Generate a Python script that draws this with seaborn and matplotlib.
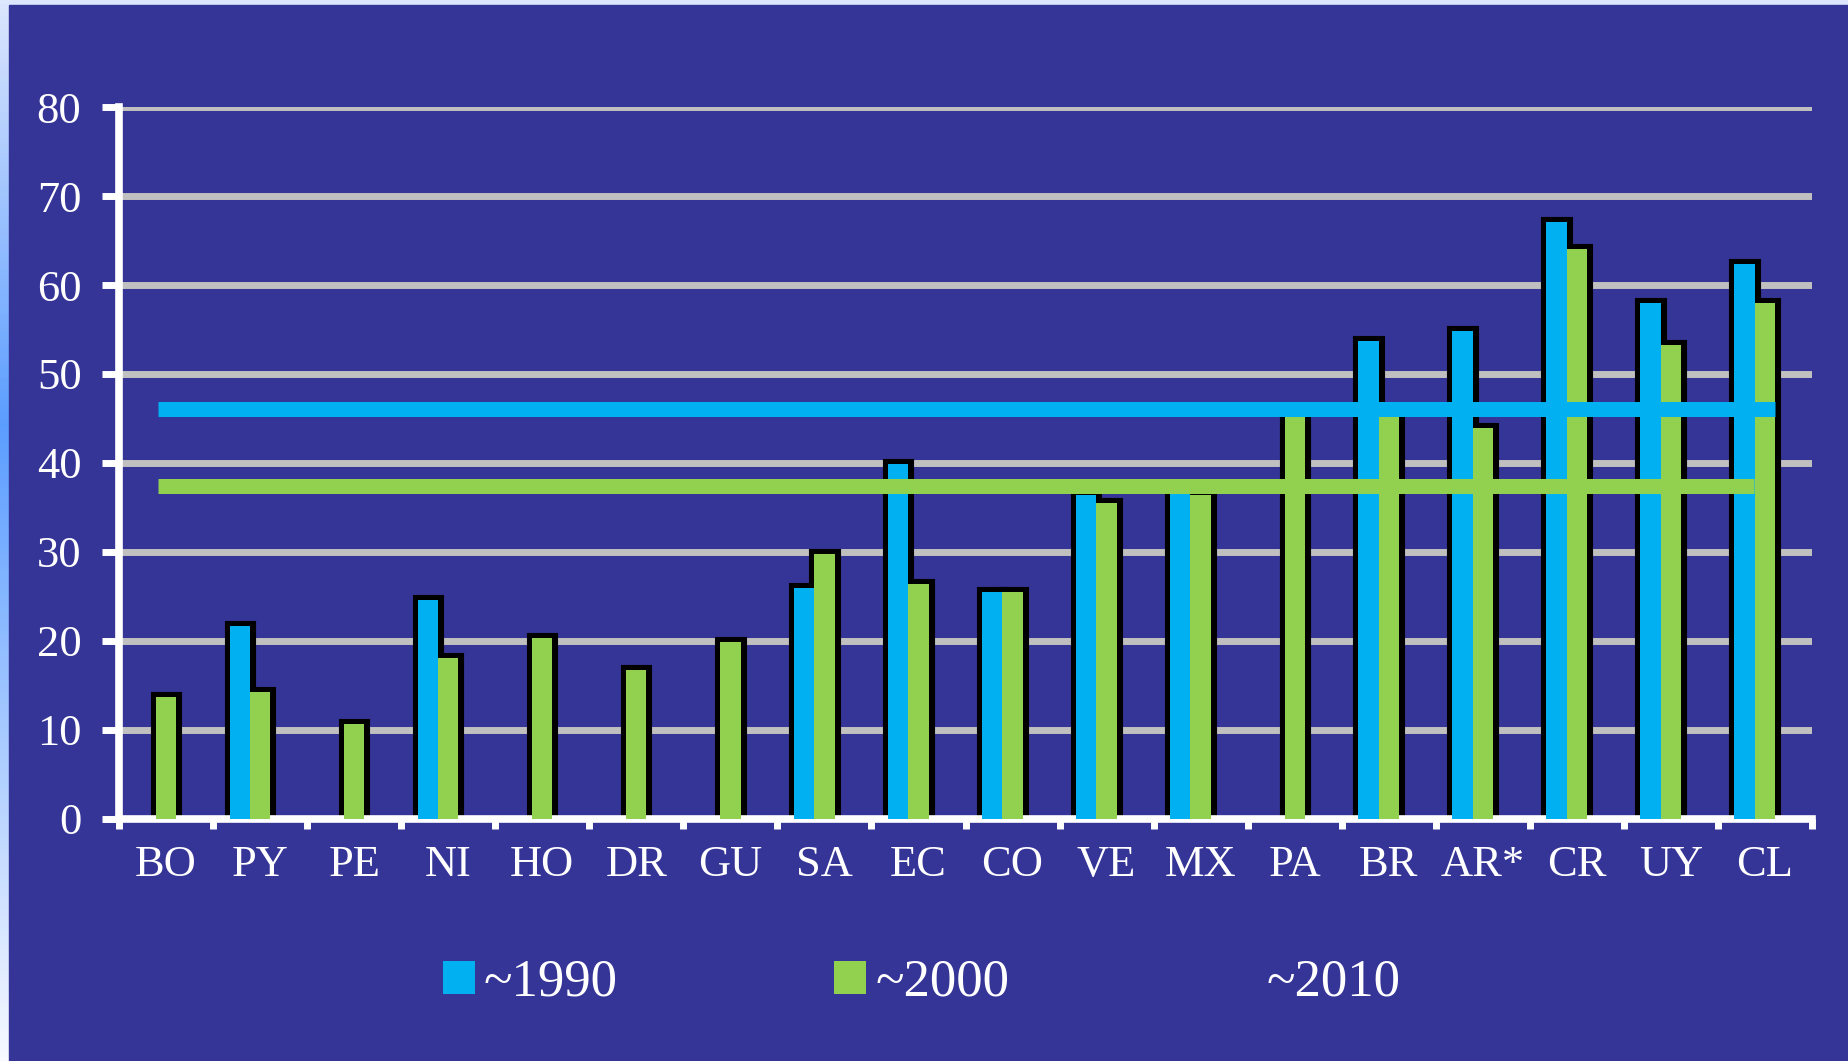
import numpy as np
import pandas as pd
import matplotlib
matplotlib.use("Agg")
import matplotlib.pyplot as plt
import seaborn as sns
from matplotlib.patches import Patch, Rectangle
from matplotlib.colors import LinearSegmentedColormap

# ---------------- data ----------------
categories = ["BO", "PY", "PE", "NI", "HO", "DR", "GU", "SA", "EC", "CO",
              "VE", "MX", "PA", "BR", "AR*", "CR", "UY", "CL"]
v1990 = [None, 21.6, None, 24.6, None, None, None, 25.9, 39.9, 25.5,
         36.4, 36.5, None, 53.7, 54.8, 67.1, 58.0, 62.4]
v2000 = [13.7, 14.2, 10.6, 18.1, 20.3, 16.7, 19.8, 29.8, 26.4, 25.5,
         35.5, 36.4, 45.5, 45.5, 43.9, 64.1, 53.3, 58.0]
v2010 = [None, None, None, None, None, None, None, None, None, None,
         None, None, None, None, None, None, None, None]
periods = ["~1990", "~2000", "~2010"]
avg1990 = 46.1
avg2000 = 37.4
yticks = [0, 10, 20, 30, 40, 50, 60, 70, 80]

# ---------------- styles ----------------
BG = "#353497"
CYAN = "#00B0F0"
GREEN = "#92D050"
GRID = "#C0C0C0"
W, H = 1849, 1061

rows = []
for p, vals in zip(periods, [v1990, v2000, v2010]):
    for c, v in zip(categories, vals):
        if v is not None:
            rows.append({"country": c, "period": p, "value": v})
df = pd.DataFrame(rows)

plt.rcParams["font.family"] = ["Liberation Serif", "DejaVu Serif"]

fig = plt.figure(figsize=(W / 100, H / 100), dpi=100)

# background with light-blue gradient edge
bg = fig.add_axes([0, 0, 1, 1], zorder=-10)
bg.axis("off")
grad = np.linspace(0, 1, 256).reshape(-1, 1)
cmap = LinearSegmentedColormap.from_list(
    "edge", [(0, "#DCE6FD"), (0.4, "#5B9DFF"), (1, "#F7F9FF")])
bg.imshow(grad, aspect="auto", cmap=cmap, extent=[0, 1, 0, 1], origin="upper")
bg.add_patch(Rectangle((9 / W, 0), 1, 1 - 5 / H, color=BG))
bg.set_xlim(0, 1)
bg.set_ylim(0, 1)

ax = fig.add_axes([119 / W, 1 - 818.5 / H, 1693 / W, 711.2 / H])
ax.set_facecolor("none")

# black "shadow" layer
sns.barplot(data=df, x="country", y="value", hue="period", order=categories,
            hue_order=periods, palette={p: "black" for p in periods},
            width=0.65, gap=0, dodge=True, errorbar=None, saturation=1,
            edgecolor="black", linewidth=8, legend=False, ax=ax, zorder=2)
# coloured bars
sns.barplot(data=df, x="country", y="value", hue="period", order=categories,
            hue_order=periods,
            palette={"~1990": CYAN, "~2000": GREEN, "~2010": BG},
            width=0.65, gap=0, dodge=True, errorbar=None, saturation=1,
            linewidth=0, legend=False, ax=ax, zorder=3)

# average lines
ax.axhline(avg2000, xmin=0.023, xmax=0.966, color=GREEN, lw=10.8,
           solid_capstyle="butt", zorder=4)
ax.axhline(avg1990, xmin=0.023, xmax=0.978, color=CYAN, lw=10.8,
           solid_capstyle="butt", zorder=5)

ax.set_xlim(-0.5, len(categories) - 0.5)
ax.set_ylim(0, 80)
ax.set_yticks(yticks)
ax.set_xlabel("")
ax.set_ylabel("")

ax.set_axisbelow(True)
ax.yaxis.grid(True, color=GRID, linewidth=5, solid_capstyle="round")
ax.xaxis.grid(False)

for s in ["top", "right"]:
    ax.spines[s].set_visible(False)
for s in ["left", "bottom"]:
    ax.spines[s].set_color("white")
    ax.spines[s].set_linewidth(5.5)

ax.tick_params(axis="y", colors="white", length=12, width=5, pad=15,
               labelsize=32)
ax.tick_params(axis="x", which="major", length=0, pad=19, labelsize=32,
               labelcolor="white")
ax.set_xticks(np.arange(-0.5, len(categories), 1), minor=True)
ax.tick_params(axis="x", which="minor", length=7.5, width=5, color="white")

handles = [Patch(facecolor=CYAN, edgecolor="none"),
           Patch(facecolor=GREEN, edgecolor="none"),
           Patch(facecolor=BG, edgecolor="none")]
fig.legend(handles, periods, loc="center left",
           bbox_to_anchor=(443 / W, 1 - 983 / H), ncol=3, frameon=False,
           fontsize=38, labelcolor="white", handlelength=0.606,
           handleheight=0.587, handletextpad=0.17, columnspacing=4.1,
           borderpad=0, borderaxespad=0)

fig.savefig("out.png", dpi=100, facecolor="#DCE6FD")
